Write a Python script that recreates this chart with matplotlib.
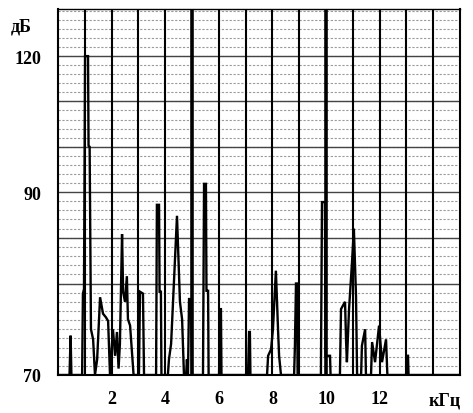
import matplotlib
matplotlib.use("Agg")
import matplotlib.pyplot as plt
import numpy as np

plt.rcParams["font.family"] = ["Liberation Serif", "DejaVu Serif"]

# spectrum trace: frequency (kHz) vs level (dB)
freq_khz = [0.0, 0.43, 0.47, 0.50, 0.90, 0.93, 0.97, 1.01, 1.12, 1.14, 1.18,
            1.23, 1.31, 1.38, 1.46, 1.57, 1.68, 1.79, 1.87, 1.94, 2.05, 2.13,
            2.20, 2.26, 2.31, 2.39, 2.43, 2.50, 2.57, 2.61, 2.69, 2.76, 2.82,
            3.02, 3.06, 3.17, 3.21, 3.66, 3.69, 3.77, 3.79, 3.84, 3.86, 4.10,
            4.14, 4.22, 4.44, 4.55, 4.63, 4.70, 4.78, 4.81, 4.85, 4.89, 4.96,
            5.00, 5.41, 5.45, 5.52, 5.54, 5.60, 5.62, 6.01, 6.04, 6.08, 6.10,
            7.09, 7.13, 7.16, 7.18, 7.80, 7.84, 7.95, 8.02, 8.13, 8.21, 8.25,
            8.32, 8.81, 8.84, 8.88, 8.92, 8.94, 9.81, 9.85, 9.96, 9.98, 10.15,
            10.17, 10.52, 10.56, 10.71, 10.75, 10.78, 10.86, 10.97, 11.04,
            11.12, 11.16, 11.31, 11.34, 11.46, 11.49, 11.68, 11.72, 11.83,
            11.98, 12.09, 12.24, 12.29, 12.99, 13.02, 13.06, 13.08, 15.0]
level_db = [70, 70, 74.3, 70, 70, 78.9, 79.4, 120, 120, 100.2, 100,
            75, 73.9, 70, 71.7, 78.5, 76.7, 76.3, 75.9, 70, 75, 72.1,
            74.7, 70.7, 73.4, 85.4, 79.1, 78, 80.8, 76.1, 75.4, 72.5, 70,
            70, 79.1, 78.9, 70, 70, 88.6, 88.6, 79.1, 79.1, 70, 70,
            71.7, 73.4, 87.4, 78, 76.1, 70, 70, 71.7, 70, 78.3, 78.3,
            70, 70, 91.8, 91.8, 79.2, 79.2, 70, 70, 77.2, 77.2, 70,
            70, 74.7, 74.7, 70, 70, 72.1, 72.8, 75, 81.4, 75, 72.1,
            70, 70, 73.2, 80, 80, 70, 70, 88.9, 88.9, 72.1, 72.1,
            70, 70, 77.2, 78, 73.6, 71.4, 77.2, 82.3, 86,
            78.6, 70, 70, 73.2, 75, 70, 70, 73.6, 71.4,
            75.4, 71.4, 73.9, 70, 70, 72.1, 72.1, 70, 70]

x_ticks = [2, 4, 6, 8, 10, 12]
y_ticks = [70, 90, 120]


# the chart paper is expanded below 90 dB (1 dB per minor division there)
def fwd(v):
    v = np.asarray(v, dtype=float)
    return np.where(v >= 90, (v - 90) * 4.53, (v - 90) * 9.15)


def inv(p):
    p = np.asarray(p, dtype=float)
    return np.where(p >= 0, 90 + p / 4.53, 90 + p / 9.15)


fig = plt.figure(figsize=(4.73, 4.14), dpi=100)
ax = fig.add_axes([58 / 473, 1 - 376 / 414, 402 / 473, 366 / 414])
ax.set_yscale("function", functions=(fwd, inv))
ax.set_xlim(0, 15)
ax.set_ylim(70, 130.4)

# horizontal grid: dotted minors, solid majors
minor_y = list(range(71, 90)) + list(range(92, 131, 2))
for v in minor_y:
    ax.axhline(v, color="#9a9a9a", lw=0.8, ls=(0, (2, 1.5)), zorder=1)
for v in [80, 85, 90, 100, 110, 120]:
    ax.axhline(v, color="#444444", lw=1.0, zorder=1.5)

# vertical grid every kHz, heavier at 5 and 10
for k in range(1, 15):
    ax.axvline(k, color="black", lw=2.6 if k in (5, 10) else 1.5, zorder=2)

ax.plot(freq_khz, level_db, color="black", lw=1.7, zorder=3,
        solid_joinstyle="miter")

for s in ax.spines.values():
    s.set_linewidth(1.5)
    s.set_color("black")
ax.spines["top"].set_linewidth(1.0)

ax.set_xticks(x_ticks)
ax.set_xticklabels([str(t) for t in x_ticks])
ax.set_yticks(y_ticks)
ax.set_yticklabels([str(t) for t in y_ticks])
ax.yaxis.set_minor_locator(matplotlib.ticker.NullLocator())
ax.xaxis.set_minor_locator(matplotlib.ticker.NullLocator())
ax.tick_params(length=0, labelsize=13, pad=0)
ax.tick_params(axis="y", pad=12)
ax.tick_params(axis="x", pad=11)
for lbl in ax.get_xticklabels() + ax.get_yticklabels():
    lbl.set_fontweight("bold")

fig.text(21 / 473, 1 - 27 / 414, "дБ", fontsize=13, fontweight="bold",
         ha="center", va="center")
fig.text(445 / 473, 1 - 401 / 414, "кГц", fontsize=13, fontweight="bold",
         ha="center", va="center")

fig.savefig("out.png", dpi=100)
